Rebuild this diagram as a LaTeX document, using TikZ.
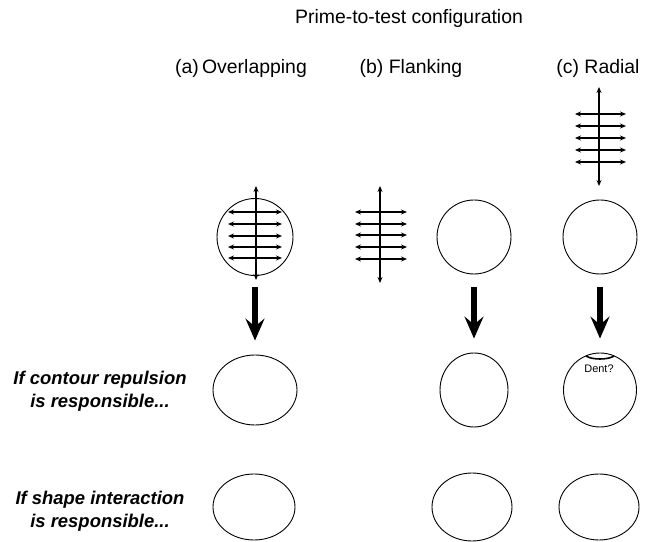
\documentclass[tikz,border=0pt]{standalone}
\usepackage{fontspec}
\setmainfont{Liberation Sans}
\usepackage{tikz}
\usetikzlibrary{arrows.meta}
\usetikzlibrary{shapes.geometric}

\tikzset{
  blob/.style={draw,ellipse,line width=0.9pt,inner sep=0pt},
  head/.style={font=\fontsize{19.5}{22}\selectfont},
  cond/.style={font=\fontsize{18.5}{23}\selectfont\bfseries\itshape,align=center,inner sep=1pt},
  bigarrow/.style={line width=5.5pt,-{Stealth[length=22pt,width=19pt,inset=8pt]}},
  tickarrow/.style={line width=1.1pt,{Stealth[length=6pt,width=5pt]}-{Stealth[length=6pt,width=5pt]}},
  axisarrow/.style={line width=2pt,{Stealth[length=6pt,width=5pt]}-{Stealth[length=6pt,width=5pt]}},
}

\begin{document}
\begin{tikzpicture}[>=latex,line join=bevel,]
\useasboundingbox (0bp,0bp) rectangle (645bp,542bp);
%%
\node (title) at (409bp,524bp) [head] {Prime-to-test configuration};
  \node (head_a) at (241bp,474bp) [head] {(a)\,Overlapping};
  \node (head_b) at (411bp,474bp) [head] {(b)\ Flanking};
  \node (head_c) at (598bp,474bp) [head] {(c) Radial};
%% prime row
  \node (prime_a) at (255bp,305bp) [blob,minimum width=76bp,minimum height=77bp] {};
  \node (prime_b) at (474bp,305bp) [blob,minimum width=74bp,minimum height=74bp] {};
  \node (prime_c) at (600bp,305bp) [blob,minimum width=74bp,minimum height=74bp] {};
%% contour repulsion row
  \node (cond_1) at (100bp,151bp) [cond] {If contour repulsion\\is responsible...};
  \node (rep_a) at (255bp,152bp) [blob,minimum width=84bp,minimum height=70bp] {};
  \node (rep_b) at (474bp,152bp) [blob,minimum width=68bp,minimum height=74bp] {};
  \node (rep_c) at (600bp,152bp) [blob,minimum width=73bp,minimum height=74bp] {};
  \node (dent) at (599bp,173bp) [font=\fontsize{11}{12}\selectfont] {Dent?};
%% shape interaction row
  \node (cond_2) at (100bp,31bp) [cond] {If shape interaction\\is responsible...};
  \node (int_a) at (254bp,35bp) [blob,minimum width=82bp,minimum height=66bp] {};
  \node (int_b) at (472bp,35bp) [blob,minimum width=80bp,minimum height=68bp] {};
  \node (int_c) at (599bp,35bp) [blob,minimum width=80bp,minimum height=66bp] {};
%% arrows
  \draw [bigarrow] (prime_a) -- (rep_a) [shorten <=11bp,shorten >=14bp];
  \draw [bigarrow] (prime_b) -- (rep_b) [shorten <=13bp,shorten >=14bp];
  \draw [bigarrow] (prime_c) -- (rep_c) [shorten <=13bp,shorten >=14bp];
%% dent
  \draw [line width=1.6pt] (586bp,186bp) ..controls (592bp,182bp) and (608bp,182bp) .. (614bp,186bp);
%% primes
  \foreach \y in {330,318,306,295,284} \draw [tickarrow] (228bp,\y bp) -- (282bp,\y bp);
  \draw [axisarrow] (256bp,356bp) -- (256bp,262bp);
  \foreach \y in {330,318,307,295,283} \draw [tickarrow] (355bp,\y bp) -- (407bp,\y bp);
  \draw [axisarrow] (380bp,356bp) -- (380bp,259bp);
  \foreach \y in {428,416,404,392,380} \draw [tickarrow] (575bp,\y bp) -- (626bp,\y bp);
  \draw [axisarrow] (599bp,455bp) -- (599bp,356bp);
%
\end{tikzpicture}
\end{document}
